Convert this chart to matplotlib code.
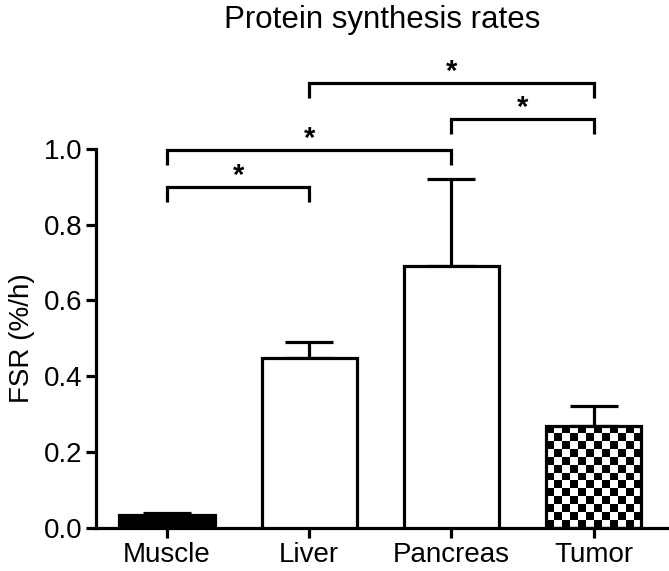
import numpy as np
import matplotlib
matplotlib.use("Agg")
import matplotlib.pyplot as plt

plt.rcParams['font.family'] = ['Liberation Sans', 'DejaVu Sans']

# Donnees
tissus = ['Muscle', 'Liver', 'Pancreas', 'Tumor']
fsr = [0.035, 0.449, 0.692, 0.269]
erreur = [0.005, 0.041, 0.228, 0.052]
couleurs = ['black', 'white', 'white', 'none']

# comparaisons significatives: (groupe a, groupe b, hauteur du crochet)
paires_a = [0, 0, 2, 1]
paires_b = [1, 2, 3, 3]
hauteurs = [0.899, 0.996, 1.078, 1.174]

fig = plt.figure(figsize=(6.69, 5.71), dpi=100)
ax = fig.add_axes([0.1435, 0.0753, 0.8565, 0.6641])

x = np.arange(len(tissus))
largeur = 0.67
lw = 2.3

barres = ax.bar(x, fsr, width=largeur, color=couleurs, edgecolor='black',
                linewidth=lw, zorder=3)
ax.errorbar(x, fsr, yerr=[np.zeros(len(fsr)), erreur], fmt='none',
            ecolor='black', elinewidth=lw, capsize=17.5, capthick=lw, zorder=2)

# motif damier pour la barre Tumor
b = barres[3]
x0, y0 = b.get_x(), b.get_y()
w, h = b.get_width(), b.get_height()
nx = int(round(w / 0.056))
ny = int(round(h / 0.021))
damier = (np.add.outer(np.arange(ny), np.arange(nx)) % 2).astype(float)
img = ax.imshow(damier, cmap='gray', extent=[x0, x0 + w, y0, y0 + h],
                aspect='auto', interpolation='nearest', zorder=2.5)
img.set_clip_path(b)

# crochets de significativite
chute = 0.04
for a, c, hy in zip(paires_a, paires_b, hauteurs):
    ax.plot([x[a], x[a], x[c], x[c]], [hy - chute, hy, hy, hy - chute],
            color='black', linewidth=lw, clip_on=False,
            solid_joinstyle='miter', solid_capstyle='butt')
    ax.text((x[a] + x[c]) / 2, hy + 0.03, '*', ha='center', va='center',
            fontsize=21, fontweight='bold', clip_on=False)

ax.set_xlim(-0.5, 3.53)
ax.set_ylim(0, 1.0)
ax.set_xticks(x)
ax.set_xticklabels(tissus)
ax.set_yticks([0.0, 0.2, 0.4, 0.6, 0.8, 1.0])
ax.set_yticklabels(['0.0', '0.2', '0.4', '0.6', '0.8', '1.0'])
ax.tick_params(labelsize=20, length=7, width=lw, direction='out', pad=3)
ax.set_ylabel('FSR (%/h)', fontsize=20, labelpad=6)

for cote in ['top', 'right']:
    ax.spines[cote].set_visible(False)
for cote in ['left', 'bottom']:
    ax.spines[cote].set_linewidth(lw)

fig.text(0.5718, (571 - 28) / 571, 'Protein synthesis rates', ha='center',
         va='baseline', fontsize=22.5)

fig.savefig('out.png', dpi=100)
